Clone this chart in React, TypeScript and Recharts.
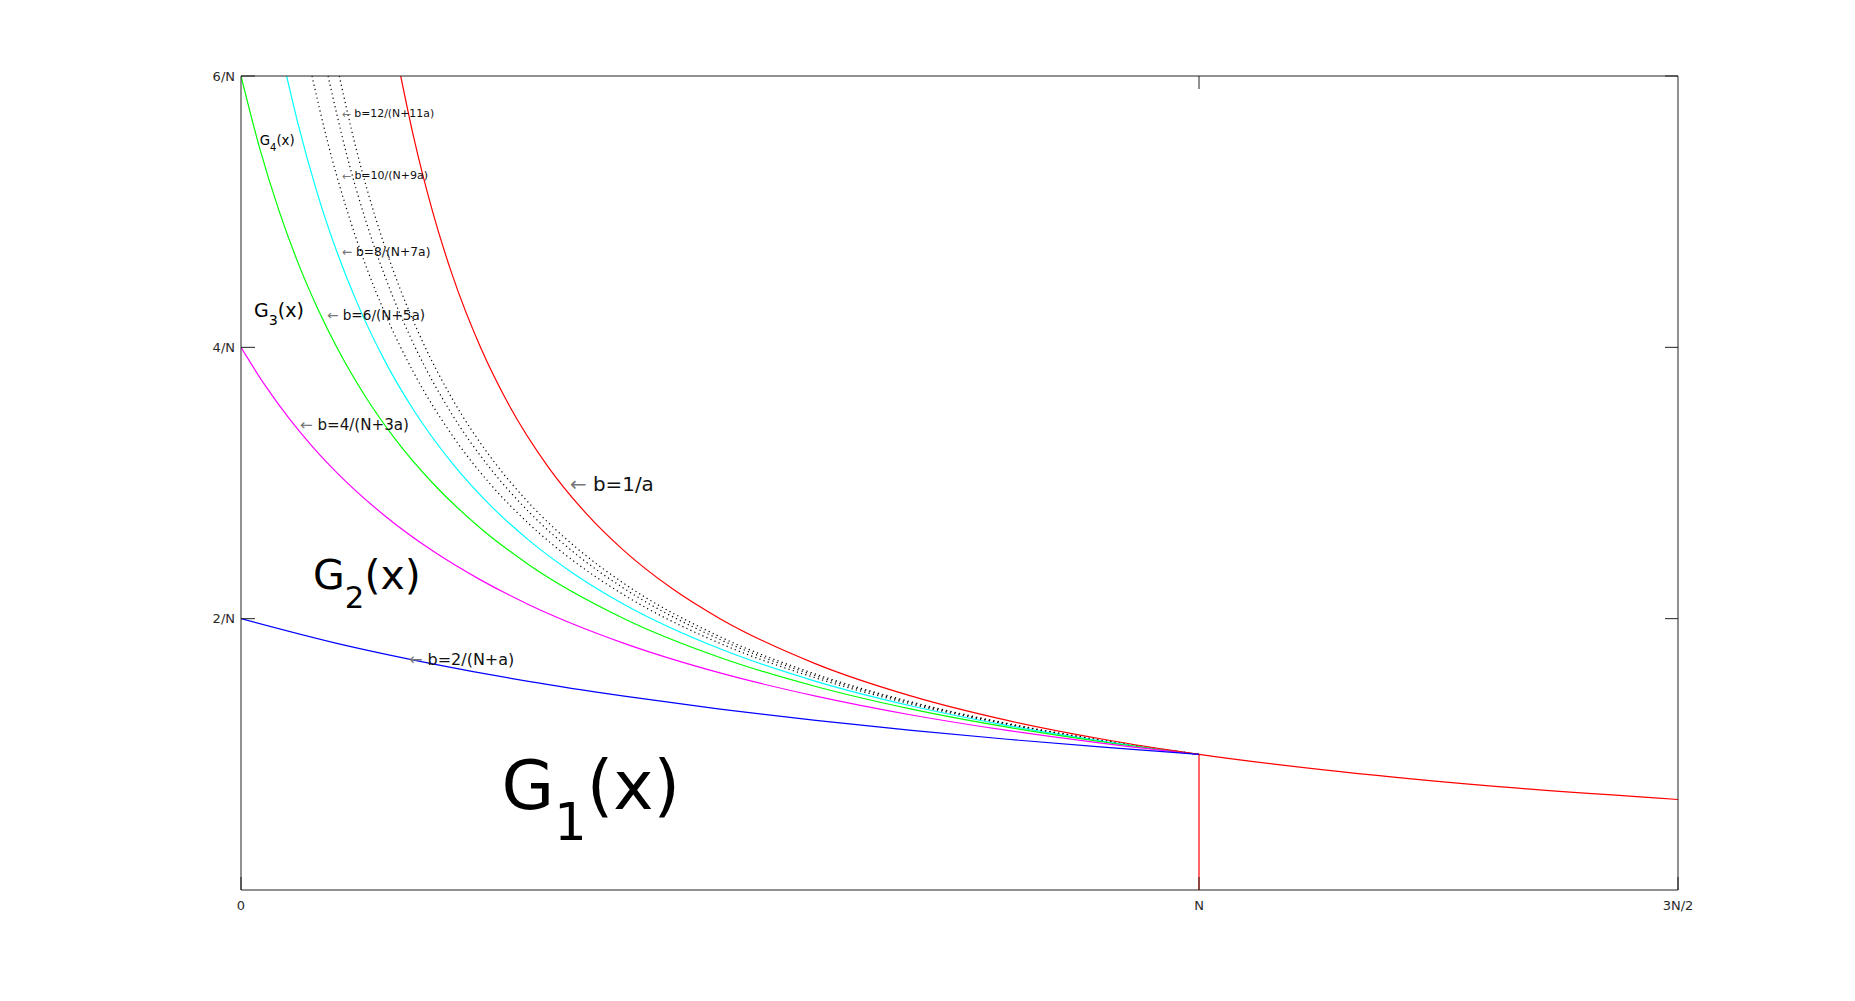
import { LineChart, Line, XAxis, YAxis, ReferenceDot } from 'recharts';

type Pt = { x: number; y: number };

// a in units of N (x), b in units of 1/N (y)
const bOneOverA: Pt[] = [
  { x: 0.1667, y: 6 }, { x: 0.18, y: 5.556 }, { x: 0.2, y: 5 }, { x: 0.22, y: 4.545 },
  { x: 0.25, y: 4 }, { x: 0.28, y: 3.571 }, { x: 0.32, y: 3.125 }, { x: 0.36, y: 2.778 },
  { x: 0.4, y: 2.5 }, { x: 0.45, y: 2.222 }, { x: 0.5, y: 2 }, { x: 0.6, y: 1.667 },
  { x: 0.7, y: 1.429 }, { x: 0.8, y: 1.25 }, { x: 0.9, y: 1.111 }, { x: 1, y: 1 },
  { x: 1.15, y: 0.87 }, { x: 1.3, y: 0.769 }, { x: 1.5, y: 0.667 },
];

const redDrop: Pt[] = [{ x: 1, y: 1 }, { x: 1, y: 0 }];

const b2: Pt[] = [
  { x: 0, y: 2 }, { x: 0.1, y: 1.818 }, { x: 0.2, y: 1.667 }, { x: 0.3, y: 1.538 },
  { x: 0.4, y: 1.429 }, { x: 0.5, y: 1.333 }, { x: 0.6, y: 1.25 }, { x: 0.7, y: 1.176 },
  { x: 0.8, y: 1.111 }, { x: 0.9, y: 1.053 }, { x: 1, y: 1 },
];

const b4: Pt[] = [
  { x: 0, y: 4 }, { x: 0.025, y: 3.721 }, { x: 0.05, y: 3.478 }, { x: 0.075, y: 3.265 },
  { x: 0.1, y: 3.077 }, { x: 0.15, y: 2.759 }, { x: 0.2, y: 2.5 }, { x: 0.25, y: 2.286 },
  { x: 0.3, y: 2.105 }, { x: 0.4, y: 1.818 }, { x: 0.5, y: 1.6 }, { x: 0.6, y: 1.429 },
  { x: 0.7, y: 1.29 }, { x: 0.8, y: 1.176 }, { x: 0.9, y: 1.081 }, { x: 1, y: 1 },
];

const b6: Pt[] = [
  { x: 0, y: 6 }, { x: 0.02, y: 5.455 }, { x: 0.04, y: 5 }, { x: 0.06, y: 4.615 },
  { x: 0.08, y: 4.286 }, { x: 0.1, y: 4 }, { x: 0.13, y: 3.636 }, { x: 0.16, y: 3.333 },
  { x: 0.2, y: 3 }, { x: 0.25, y: 2.667 }, { x: 0.3, y: 2.4 }, { x: 0.4, y: 2 },
  { x: 0.5, y: 1.714 }, { x: 0.6, y: 1.5 }, { x: 0.7, y: 1.333 }, { x: 0.8, y: 1.2 },
  { x: 0.9, y: 1.091 }, { x: 1, y: 1 },
];

const b8: Pt[] = [
  { x: 0.0476, y: 6 }, { x: 0.06, y: 5.634 }, { x: 0.08, y: 5.128 }, { x: 0.1, y: 4.706 },
  { x: 0.12, y: 4.348 }, { x: 0.15, y: 3.902 }, { x: 0.18, y: 3.54 }, { x: 0.22, y: 3.15 },
  { x: 0.26, y: 2.837 }, { x: 0.3, y: 2.581 }, { x: 0.35, y: 2.319 }, { x: 0.4, y: 2.105 },
  { x: 0.5, y: 1.778 }, { x: 0.6, y: 1.538 }, { x: 0.7, y: 1.356 }, { x: 0.8, y: 1.212 },
  { x: 0.9, y: 1.096 }, { x: 1, y: 1 },
];

const b10: Pt[] = [
  { x: 0.0741, y: 6 }, { x: 0.09, y: 5.525 }, { x: 0.11, y: 5.025 }, { x: 0.13, y: 4.608 },
  { x: 0.15, y: 4.255 }, { x: 0.18, y: 3.817 }, { x: 0.22, y: 3.356 }, { x: 0.26, y: 2.994 },
  { x: 0.3, y: 2.703 }, { x: 0.35, y: 2.41 }, { x: 0.4, y: 2.174 }, { x: 0.5, y: 1.818 },
  { x: 0.6, y: 1.563 }, { x: 0.7, y: 1.37 }, { x: 0.8, y: 1.22 }, { x: 0.9, y: 1.099 },
  { x: 1, y: 1 },
];

const b12: Pt[] = [
  { x: 0.0909, y: 6 }, { x: 0.11, y: 5.43 }, { x: 0.13, y: 4.938 }, { x: 0.15, y: 4.528 },
  { x: 0.18, y: 4.027 }, { x: 0.22, y: 3.509 }, { x: 0.26, y: 3.109 }, { x: 0.3, y: 2.791 },
  { x: 0.35, y: 2.474 }, { x: 0.4, y: 2.222 }, { x: 0.5, y: 1.846 }, { x: 0.6, y: 1.579 },
  { x: 0.7, y: 1.379 }, { x: 0.8, y: 1.224 }, { x: 0.9, y: 1.101 }, { x: 1, y: 1 },
];

const b14: Pt[] = [
  { x: 0.1026, y: 6 }, { x: 0.12, y: 5.469 }, { x: 0.14, y: 4.965 }, { x: 0.16, y: 4.545 },
  { x: 0.19, y: 4.035 }, { x: 0.22, y: 3.627 }, { x: 0.26, y: 3.196 }, { x: 0.3, y: 2.857 },
  { x: 0.35, y: 2.523 }, { x: 0.4, y: 2.258 }, { x: 0.5, y: 1.867 }, { x: 0.6, y: 1.591 },
  { x: 0.7, y: 1.386 }, { x: 0.8, y: 1.228 }, { x: 0.9, y: 1.102 }, { x: 1, y: 1 },
];

const xTicks = [0, 1, 1.5];
const xTickLabels = ['0', 'N', '3N/2'];
const yTicks = [2, 4, 6];
const yTickLabels = ['2/N', '4/N', '6/N'];

const AXIS = '#222';
const TICK_TEXT = '#2a2a2a';
const FONT = '"DejaVu Sans", Verdana, sans-serif';

function LeftTick(p: any) {
  const ax = p.x + 6;
  const i = yTicks.indexOf(p.payload.value);
  return (
    <g>
      <line x1={ax} x2={ax + 14} y1={p.y} y2={p.y} stroke={AXIS} />
      <text x={p.x} y={p.y} textAnchor="end" dominantBaseline="central" fontSize={13} fill={TICK_TEXT}>
        {yTickLabels[i]}
      </text>
    </g>
  );
}

function RightTick(p: any) {
  return <line x1={p.x - 13} x2={p.x} y1={p.y} y2={p.y} stroke={AXIS} />;
}

function BottomTick(p: any) {
  const i = xTicks.indexOf(p.payload.value);
  return (
    <g>
      <line x1={p.x} x2={p.x} y1={p.y} y2={p.y - 13} stroke={AXIS} />
      <text x={p.x} y={p.y + 15} textAnchor="middle" dominantBaseline="central" fontSize={13} fill={TICK_TEXT}>
        {xTickLabels[i]}
      </text>
    </g>
  );
}

function TopTick(p: any) {
  return <line x1={p.x} x2={p.x} y1={p.y} y2={p.y + 13} stroke={AXIS} />;
}

function arrowLabel(text: string, size: number) {
  return (p: any) => (
    <text x={p.cx} y={p.cy} fontSize={size} dominantBaseline="central" fill="#111" fontFamily={FONT}>
      <tspan fill="#777">{'\u2190'}</tspan>
      {' ' + text}
    </text>
  );
}

function gLabel(sub: string, size: number) {
  const d = size * 0.45;
  return (p: any) => (
    <text x={p.cx} y={p.cy} fontSize={size} fill="#000" fontFamily={FONT}>
      G
      <tspan fontSize={size * 0.75} dy={d}>{sub}</tspan>
      <tspan dy={-d}>(x)</tspan>
    </text>
  );
}

const curve = { type: 'monotone' as const, dataKey: 'y', dot: false, isAnimationActive: false, strokeWidth: 1.2 };

export default function App() {
  return (
    <div style={{ position: 'absolute', left: 0, top: 0, background: '#fff' }}>
      <LineChart
        width={1855}
        height={1001}
        margin={{ top: 66, right: 167, bottom: 81, left: 181 }}
        style={{ fontFamily: FONT }}
      >
        <XAxis
          xAxisId={0}
          dataKey="x"
          type="number"
          domain={[0, 1.5]}
          ticks={xTicks}
          allowDataOverflow
          height={30}
          tickSize={0}
          tickMargin={0}
          tickLine={false}
          axisLine={{ stroke: AXIS }}
          tick={<BottomTick />}
          interval={0}
        />
        <XAxis
          xAxisId="top"
          orientation="top"
          dataKey="x"
          type="number"
          domain={[0, 1.5]}
          ticks={[1]}
          allowDataOverflow
          height={10}
          tickSize={0}
          tickMargin={0}
          tickLine={false}
          axisLine={{ stroke: AXIS }}
          tick={<TopTick />}
        />
        <YAxis
          yAxisId={0}
          type="number"
          domain={[0, 6]}
          ticks={yTicks}
          allowDataOverflow
          width={60}
          tickSize={0}
          tickMargin={6}
          tickLine={false}
          axisLine={{ stroke: AXIS }}
          tick={<LeftTick />}
          interval={0}
        />
        <YAxis
          yAxisId="right"
          orientation="right"
          type="number"
          domain={[0, 6]}
          ticks={yTicks}
          allowDataOverflow
          width={10}
          tickSize={0}
          tickMargin={0}
          tickLine={false}
          axisLine={{ stroke: AXIS }}
          tick={<RightTick />}
          interval={0}
        />

        <Line {...curve} data={b14} stroke="#000" strokeDasharray="1.2 3.2" />
        <Line {...curve} data={b12} stroke="#000" strokeDasharray="1.2 3.2" />
        <Line {...curve} data={b10} stroke="#000" strokeDasharray="1.2 3.2" />
        <Line {...curve} data={b8} stroke="#00ffff" />
        <Line {...curve} data={b6} stroke="#00ff00" />
        <Line {...curve} data={b4} stroke="#ff00ff" />
        <Line {...curve} data={bOneOverA} stroke="#ff0000" />
        <Line {...curve} type="linear" data={redDrop} stroke="#ff0000" />
        <Line {...curve} data={b2} stroke="#0000ff" />

        <ReferenceDot x={0.1051} y={5.72} r={0} shape={arrowLabel('b=12/(N+11a)', 10.9)} />
        <ReferenceDot x={0.1051} y={5.264} r={0} shape={arrowLabel('b=10/(N+9a)', 11)} />
        <ReferenceDot x={0.1051} y={4.701} r={0} shape={arrowLabel('b=8/(N+7a)', 12.3)} />
        <ReferenceDot x={0.0898} y={4.237} r={0} shape={arrowLabel('b=6/(N+5a)', 13.6)} />
        <ReferenceDot x={0.0616} y={3.427} r={0} shape={arrowLabel('b=4/(N+3a)', 15.1)} />
        <ReferenceDot x={0.1754} y={1.702} r={0} shape={arrowLabel('b=2/(N+a)', 16)} />
        <ReferenceDot x={0.3434} y={2.992} r={0} shape={arrowLabel('b=1/a', 19.9)} />

        <ReferenceDot x={0.0196} y={5.49} r={0} shape={gLabel('4', 13.3)} />
        <ReferenceDot x={0.0136} y={4.225} r={0} shape={gLabel('3', 19)} />
        <ReferenceDot x={0.0752} y={2.218} r={0} shape={gLabel('2', 41)} />
        <ReferenceDot x={0.2719} y={0.597} r={0} shape={gLabel('1', 68)} />
      </LineChart>
    </div>
  );
}
